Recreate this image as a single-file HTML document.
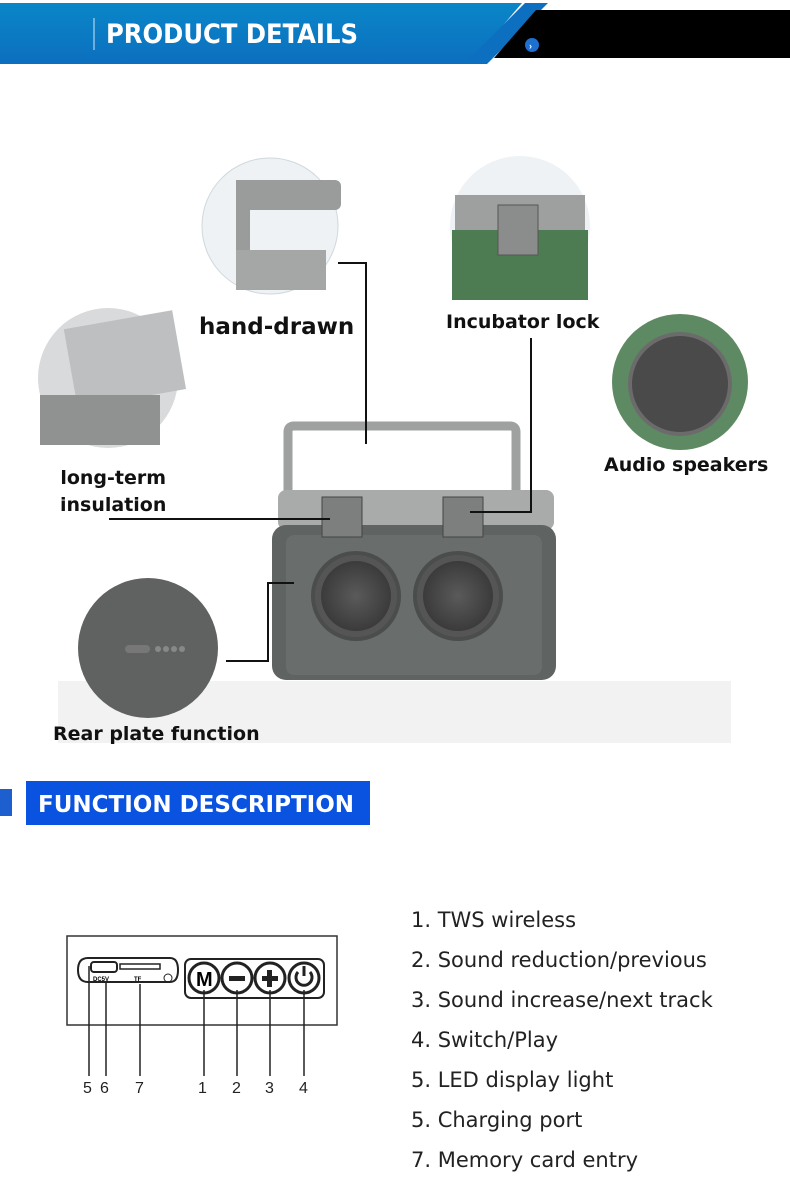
<!DOCTYPE html>
<html><head><meta charset="utf-8"><style>
body{margin:0;width:790px;height:1186px;background:#fff;position:relative;overflow:hidden;font-family:"Liberation Sans",sans-serif}
.lbl{position:absolute;font-weight:bold;color:#111;font-family:"DejaVu Sans","Liberation Sans",sans-serif}
.fl{position:absolute;left:411px;font-size:21px;color:#222;font-family:"DejaVu Sans","Liberation Sans",sans-serif}
</style></head><body>
<svg width="790" height="1186" style="position:absolute;left:0;top:0">
<defs>
<linearGradient id="bg" x1="0" y1="0" x2="0" y2="1"><stop offset="0" stop-color="#0a86c8"/><stop offset="1" stop-color="#0c6fbf"/></linearGradient>
<radialGradient id="sp"><stop offset="0" stop-color="#5a5a5a"/><stop offset="1" stop-color="#3b3b3b"/></radialGradient>
</defs>
<polygon points="0,3 522,3 470,64 0,64" fill="url(#bg)"/>
<polygon points="525,3 548,3 487,64 464,64" fill="#0c6fbf"/>
<polygon points="536,10 790,10 790,58 494,58" fill="#000"/>
<line x1="94" y1="18" x2="94" y2="50" stroke="#cfe6f5" stroke-width="1"/>
<text x="106" y="43" font-family="DejaVu Sans Condensed,Liberation Sans Narrow,Liberation Sans" font-size="27" font-weight="bold" fill="#fff">PRODUCT DETAILS</text>
<circle cx="532" cy="45" r="7" fill="#1d6fd0"/><text x="529" y="49" font-size="9" fill="#fff" font-weight="bold">›</text>
<rect x="58" y="681" width="673" height="62" fill="#f2f2f2"/>
<circle cx="270" cy="226" r="68" fill="#eef2f4" stroke="#cfd8dc"/>
<rect x="236" y="180" width="105" height="30" rx="6" fill="#9a9c9b"/><rect x="236" y="180" width="14" height="110" fill="#9a9c9b"/><rect x="236" y="250" width="90" height="40" fill="#a5a7a6"/>
<circle cx="520" cy="226" r="70" fill="#eef2f4"/>
<rect x="455" y="195" width="130" height="40" fill="#9ea09f"/><rect x="452" y="230" width="136" height="70" fill="#4e7c52"/><rect x="498" y="205" width="40" height="50" fill="#8b8d8c" stroke="#555"/>
<circle cx="680" cy="382" r="68" fill="#5e8a63"/><circle cx="680" cy="384" r="50" fill="#4a4a4a" stroke="#6b6b6b" stroke-width="4"/>
<circle cx="108" cy="378" r="70" fill="#d8dadb"/><rect x="70" y="320" width="110" height="80" fill="#bdbfc0" transform="rotate(-10 120 360)"/><rect x="40" y="395" width="120" height="50" fill="#8f9291"/>
<circle cx="148" cy="648" r="70" fill="#5f6260"/><rect x="125" y="645" width="25" height="8" rx="4" fill="#777"/><circle cx="158" cy="649" r="3" fill="#888"/><circle cx="166" cy="649" r="3" fill="#888"/><circle cx="174" cy="649" r="3" fill="#888"/><circle cx="182" cy="649" r="3" fill="#888"/>
<path d="M288,492 L288,432 Q288,426 294,426 L510,426 Q516,426 516,432 L516,492" fill="none" stroke="#9ea1a0" stroke-width="9"/>
<rect x="278" y="490" width="276" height="40" rx="8" fill="#a9abaa"/>
<rect x="272" y="525" width="284" height="155" rx="14" fill="#5f6462"/>
<rect x="286" y="535" width="256" height="140" rx="8" fill="#696e6c"/>
<rect x="322" y="497" width="40" height="40" fill="#7c7f7e" stroke="#444"/>
<rect x="443" y="497" width="40" height="40" fill="#7c7f7e" stroke="#444"/>
<circle cx="356" cy="596" r="43" fill="#555" stroke="#4a4d4c" stroke-width="4"/><circle cx="356" cy="596" r="35" fill="url(#sp)"/>
<circle cx="458" cy="596" r="43" fill="#555" stroke="#4a4d4c" stroke-width="4"/><circle cx="458" cy="596" r="35" fill="url(#sp)"/>
<polyline points="338,263 366,263 366,444" fill="none" stroke="#111" stroke-width="2"/>
<polyline points="531,338 531,512 470,512" fill="none" stroke="#111" stroke-width="2"/>
<line x1="109" y1="519" x2="330" y2="519" stroke="#111" stroke-width="2"/>
<polyline points="226,661 268,661 268,583 294,583" fill="none" stroke="#111" stroke-width="2"/>
<rect x="0" y="789" width="12" height="27" fill="#1d5fcf"/>
<rect x="26" y="781" width="344" height="44" fill="#0a52e0"/>
<text x="38" y="812" font-family="DejaVu Sans,Liberation Sans" font-weight="bold" font-size="23" fill="#fff">FUNCTION DESCRIPTION</text>
<rect x="67" y="936" width="270" height="89" fill="#fff" stroke="#333" stroke-width="1.5"/>
<path d="M88,958 L170,958 Q178,958 178,970 Q178,982 170,982 L88,982 Q78,982 78,970 Q78,958 88,958Z" fill="none" stroke="#222" stroke-width="2"/>
<rect x="91" y="962" width="26" height="10" rx="3" fill="none" stroke="#222" stroke-width="2"/>
<rect x="120" y="964" width="40" height="5" fill="none" stroke="#222" stroke-width="1.5"/>
<text x="93" y="981" font-size="6" font-weight="bold">DC5V</text><text x="134" y="981" font-size="6" font-weight="bold">TF</text>
<circle cx="168" cy="978" r="4" fill="none" stroke="#222"/>
<rect x="185" y="959" width="139" height="39" rx="6" fill="none" stroke="#222" stroke-width="2"/>
<g fill="none" stroke="#222" stroke-width="3">
<circle cx="204" cy="978" r="15"/><circle cx="237" cy="978" r="15"/><circle cx="270" cy="978" r="15"/><circle cx="304" cy="978" r="15"/></g>
<text x="196" y="986" font-size="20" font-weight="bold">M</text>
<rect x="229" y="976" width="16" height="5" fill="#222"/>
<rect x="262" y="976" width="16" height="5" fill="#222"/><rect x="267" y="970" width="5" height="17" fill="#222"/>
<path d="M298,972 A8,8 0 1 0 310,972" fill="none" stroke="#222" stroke-width="3"/><line x1="304" y1="966" x2="304" y2="976" stroke="#222" stroke-width="3"/>
<g stroke="#222" stroke-width="1.5">
<line x1="89" y1="966" x2="89" y2="1076"/><line x1="106" y1="982" x2="106" y2="1076"/><line x1="140" y1="984" x2="140" y2="1076"/>
<line x1="204" y1="990" x2="204" y2="1076"/><line x1="237" y1="990" x2="237" y2="1076"/><line x1="270" y1="990" x2="270" y2="1076"/><line x1="304" y1="990" x2="304" y2="1076"/></g>
<g font-size="16" fill="#222"><text x="83" y="1093">5</text><text x="100" y="1093">6</text><text x="135" y="1093">7</text><text x="198" y="1093">1</text><text x="232" y="1093">2</text><text x="265" y="1093">3</text><text x="299" y="1093">4</text></g>
</svg>
<div class="lbl" style="left:199px;top:314px;font-size:23px">hand-drawn</div>
<div class="lbl" style="left:446px;top:311px;font-size:19px">Incubator lock</div>
<div class="lbl" style="left:604px;top:454px;font-size:19px">Audio speakers</div>
<div class="lbl" style="left:60px;top:465px;font-size:19px;line-height:27px;text-align:center">long-term<br>insulation</div>
<div class="lbl" style="left:53px;top:723px;font-size:19px">Rear plate function</div>
<div class="fl" style="top:908px">1. TWS wireless</div>
<div class="fl" style="top:948px">2. Sound reduction/previous</div>
<div class="fl" style="top:988px">3. Sound increase/next track</div>
<div class="fl" style="top:1028px">4. Switch/Play</div>
<div class="fl" style="top:1068px">5. LED display light</div>
<div class="fl" style="top:1108px">5. Charging port</div>
<div class="fl" style="top:1148px">7. Memory card entry</div>
</body></html>
